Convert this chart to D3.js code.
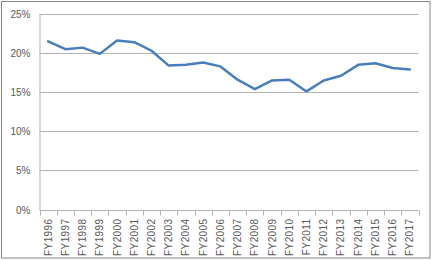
<!DOCTYPE html>
<html>
<head>
<meta charset="utf-8">
<script src="https://cdn.jsdelivr.net/npm/d3@7"></script>
<style>
  body { margin: 0; background: #fff; }
  svg { display: block; }
</style>
</head>
<body>
<svg id="chart" width="432" height="260"></svg>
<script>
// fiscal years on the x axis
const years = ["FY1996", "FY1997", "FY1998", "FY1999", "FY2000", "FY2001", "FY2002",
  "FY2003", "FY2004", "FY2005", "FY2006", "FY2007", "FY2008", "FY2009", "FY2010",
  "FY2011", "FY2012", "FY2013", "FY2014", "FY2015", "FY2016", "FY2017"]
// values, in percent
const rates = [21.5, 20.5, 20.7, 19.9, 21.6, 21.4, 20.3, 18.4, 18.5, 18.8, 18.3,
  16.6, 15.4, 16.5, 16.6, 15.1, 16.5, 17.1, 18.5, 18.7, 18.1, 17.9]
const yTicks = [0, 5, 10, 15, 20, 25]

const width = 432, height = 260
const margin = {top: 14, right: 13.5, bottom: 50.5, left: 39.5}

const svg = d3.select("#chart")
  .style("font", "10px 'Liberation Sans', Arial, sans-serif")

// outer chart border
svg.append("rect")
  .attr("x", 1.5).attr("y", 1.5)
  .attr("width", width - 3.5).attr("height", height - 3.5)
  .attr("fill", "#fff")
  .attr("stroke", "#868686")
  .attr("stroke-width", 1)

const x = d3.scaleBand()
  .domain(years)
  .range([margin.left, width - margin.right])

const y = d3.scaleLinear()
  .domain([0, 25])
  .range([height - margin.bottom, margin.top])

// gridlines
svg.append("g")
  .selectAll("line")
  .data(yTicks.slice(1))
  .join("line")
    .attr("x1", margin.left)
    .attr("x2", width - margin.right)
    .attr("y1", d => Math.round(y(d)) + 0.5)
    .attr("y2", d => Math.round(y(d)) + 0.5)
    .attr("stroke", "#b3b3b3")

// y axis
const yAxis = svg.append("g")
  .attr("transform", `translate(${margin.left},0)`)
  .call(d3.axisLeft(y).tickValues(yTicks).tickFormat(d => d + "%").tickSize(0).tickPadding(9))
yAxis.select(".domain").attr("stroke", "#b3b3b3")
yAxis.selectAll("text")
  .attr("fill", "#595959")
  .attr("y", d => Math.round(y(d)) - y(d) + 0.5)
  .style("font-size", "10px")

// x axis with ticks between categories
const xAxisY = Math.round(y(0)) + 0.5
svg.append("line")
  .attr("x1", margin.left).attr("x2", width - margin.right)
  .attr("y1", xAxisY).attr("y2", xAxisY)
  .attr("stroke", "#b3b3b3")

const bounds = years.map(d => x(d)).concat([x(years[years.length - 1]) + x.bandwidth()])
svg.append("g")
  .selectAll("line")
  .data(bounds)
  .join("line")
    .attr("x1", d => Math.round(d) + 0.5)
    .attr("x2", d => Math.round(d) + 0.5)
    .attr("y1", xAxisY)
    .attr("y2", xAxisY + 5)
    .attr("stroke", "#b3b3b3")

svg.append("g")
  .selectAll("text")
  .data(years)
  .join("text")
    .attr("transform", d => `translate(${x(d) + x.bandwidth() / 2 + 3.5},${xAxisY + 8}) rotate(-90)`)
    .attr("text-anchor", "end")
    .attr("fill", "#595959")
    .style("letter-spacing", "0.4px")
    .text(d => d)

// the series line
const line = d3.line()
  .x((d, i) => x(years[i]) + x.bandwidth() / 2)
  .y(d => y(d))

svg.append("path")
  .datum(rates)
  .attr("fill", "none")
  .attr("stroke", "#4a7ebb")
  .attr("stroke-width", 2.5)
  .attr("stroke-linejoin", "round")
  .attr("stroke-linecap", "round")
  .attr("d", line)
</script>
</body>
</html>
